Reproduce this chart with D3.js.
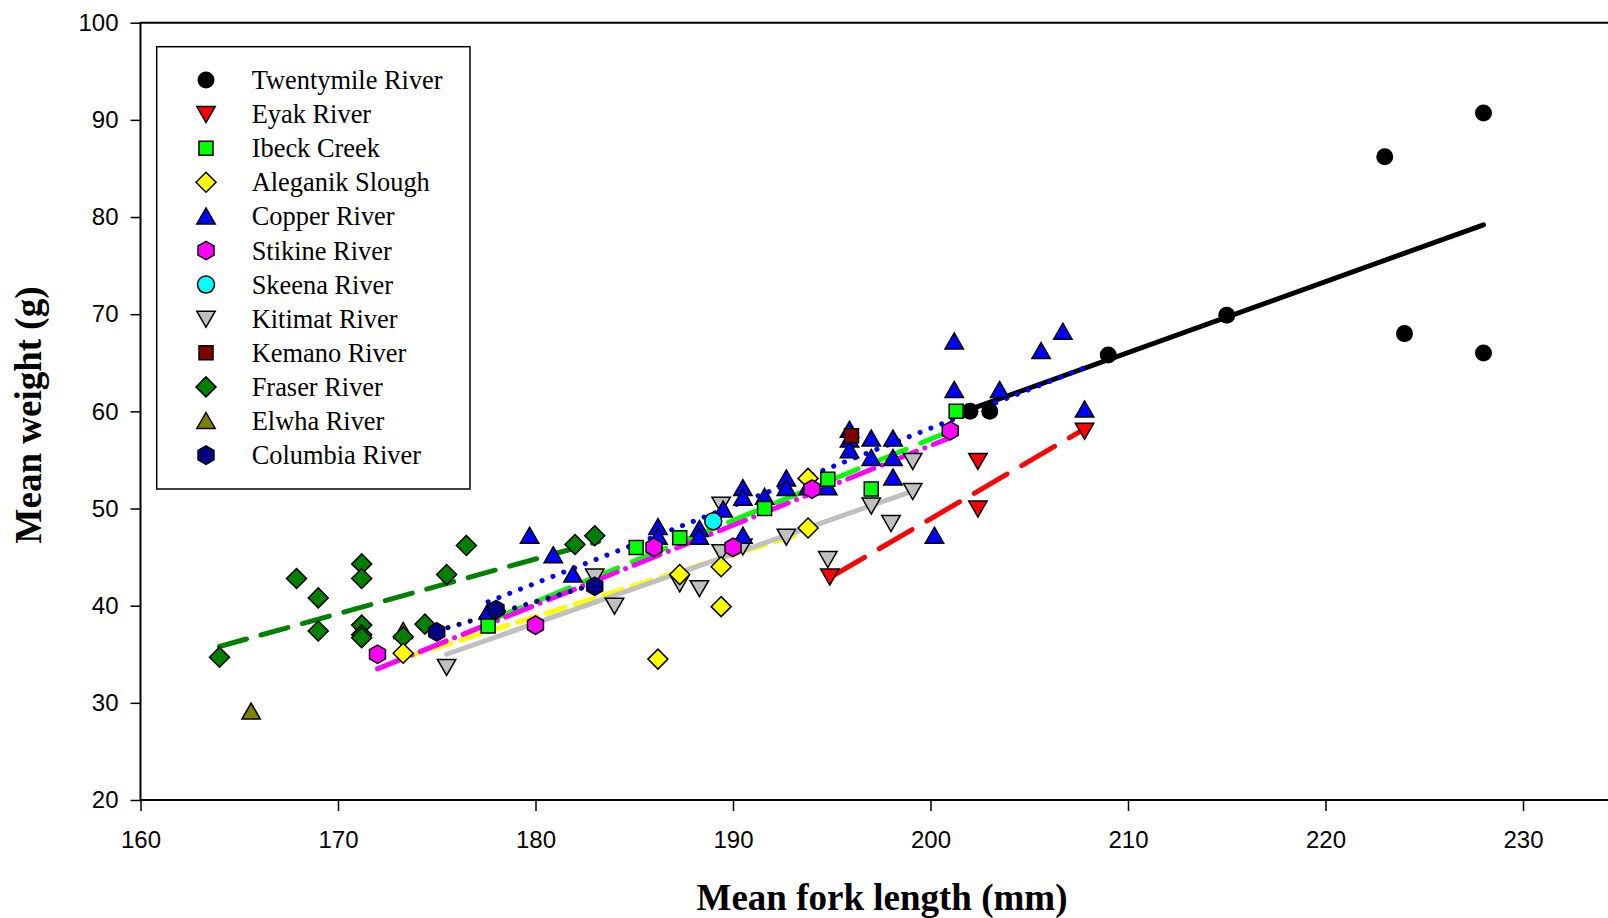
<!DOCTYPE html>
<html><head><meta charset="utf-8">
<script src="https://cdn.jsdelivr.net/npm/d3@7"></script>
<style>html,body{margin:0;padding:0;background:#fff;overflow:hidden}</style>
</head><body>
<svg id="chart" width="1608" height="918"></svg>
<script>
// ---- data ----
const seriesNames = ["Twentymile River","Eyak River","Ibeck Creek","Aleganik Slough","Copper River","Stikine River","Skeena River","Kitimat River","Kemano River","Fraser River","Elwha River","Columbia River"];

const twentymileX = [202, 203, 209, 215, 223, 224, 228, 228];
const twentymileY = [60, 60, 65.8, 69.9, 86.2, 68, 90.7, 66];
const eyakX = [194.9, 202.4, 202.4, 207.8];
const eyakY = [43, 54.9, 50, 58];
const ibeckX = [177.6, 185.1, 187.3, 191.6, 194.8, 197, 201.3];
const ibeckY = [37.9, 46, 47, 50, 53, 52, 60];
const aleganikX = [173.3, 186.2, 187.3, 189.4, 189.4, 193.8, 193.8];
const aleganikY = [35.1, 34.5, 43.2, 44, 39.9, 48, 53.1];
const copperX = [177.6, 179.7, 180.9, 181.9, 186.2, 186.2, 188.3, 188.3, 189.5, 190.5, 190.5, 190.5, 191.6, 192.7, 192.7, 193.8, 194.8, 195.9, 195.9, 195.9, 197, 197, 198.1, 198.1, 198.1, 200.2, 201.2, 201.2, 203.5, 205.6, 206.7, 207.8];
const copperY = [39.4, 47.2, 45.2, 43.2, 48.1, 47.1, 47.9, 47.1, 49.9, 52.1, 51.1, 47.2, 51.2, 53.1, 52.1, 52.2, 52.2, 58.1, 57.1, 56, 57.2, 55.2, 57.2, 55.2, 53.2, 47.2, 67.2, 62.2, 62.2, 66.2, 68.2, 60.2];
const stikineX = [172, 180, 186, 190, 194, 201];
const stikineY = [35, 38, 46, 46, 52, 58];
const skeenaX = [189];
const skeenaY = [48.7];
const kitimatX = [175.5, 183, 184, 187.3, 188.3, 189.4, 189.4, 190.5, 192.7, 194.8, 197, 198, 199.1, 199.1];
const kitimatY = [33.7, 43, 40, 42.3, 41.8, 50.4, 45.5, 46.1, 47.1, 44.8, 50.3, 48.5, 51.8, 54.9];
const kemanoX = [196];
const kemanoY = [57.5];
const fraserX = [164, 167.9, 169, 169, 171.2, 171.2, 171.2, 171.2, 171.2, 173.3, 174.4, 175.5, 176.5, 182, 183];
const fraserY = [34.7, 42.8, 40.8, 37.4, 44.3, 42.8, 38, 37, 36.7, 36.8, 38.1, 43.2, 46.2, 46.3, 47.2];
const elwhaX = [165.6, 173.3];
const elwhaY = [29.1, 37.4];
const columbiaX = [175, 178, 183];
const columbiaY = [37.3, 39.6, 42];

// regression line endpoints [x1, x2], [y1, y2]
const twentymileFitX = [202, 228], twentymileFitY = [60.2, 79.2];
const eyakFitX = [195, 207.8], eyakFitY = [43, 58.2];
const ibeckFitX = [177.6, 200.8], ibeckFitY = [38.4, 57.8];
const aleganikFitX = [173.3, 193.7], aleganikFitY = [34.6, 47.6];
const copperFitX = [177.6, 207.7], copperFitY = [40.4, 64.4];
const stikineFitX = [172, 201], stikineFitY = [33.5, 57.3];
const kitimatFitX = [175.5, 199.1], kitimatFitY = [35.0, 51.8];
const fraserFitX = [164, 183.2], fraserFitY = [35.8, 46.6];
const columbiaFitX = [175, 183], columbiaFitY = [37.4, 42.2];

const xTicks = [160, 170, 180, 190, 200, 210, 220, 230];
const yTicks = [20, 30, 40, 50, 60, 70, 80, 90, 100];

// ---- drawing ----
const svg = d3.select("#chart");
const x = d3.scaleLinear().domain([160, 235]).range([140.5, 1621.75]);
const y = d3.scaleLinear().domain([20, 100]).range([800, 22.7]);

function shapePath(kind) {
  const p = d3.path();
  if (kind === "circle") { p.arc(0, 0, 8.5, 0, 2 * Math.PI); p.closePath(); }
  else if (kind === "square") { p.rect(-7, -7, 14, 14); }
  else if (kind === "diamond") { p.moveTo(0, -10); p.lineTo(10, 0); p.lineTo(0, 10); p.lineTo(-10, 0); p.closePath(); }
  else if (kind === "up") { p.moveTo(0, -8.5); p.lineTo(9.2, 7.5); p.lineTo(-9.2, 7.5); p.closePath(); }
  else if (kind === "down") { p.moveTo(0, 8.5); p.lineTo(9.2, -7.5); p.lineTo(-9.2, -7.5); p.closePath(); }
  else if (kind === "hex") {
    for (let i = 0; i < 6; i++) {
      const a = -Math.PI / 2 + i * Math.PI / 3;
      const px = 9.2 * Math.cos(a), py = 9.2 * Math.sin(a);
      if (i === 0) p.moveTo(px, py); else p.lineTo(px, py);
    }
    p.closePath();
  }
  return p.toString();
}

const series = [
  {name: seriesNames[0], xs: twentymileX, ys: twentymileY, shape: "circle", fill: "#000000", stroke: "none"},
  {name: seriesNames[1], xs: eyakX, ys: eyakY, shape: "down", fill: "#FF0000"},
  {name: seriesNames[2], xs: ibeckX, ys: ibeckY, shape: "square", fill: "#00FF00"},
  {name: seriesNames[3], xs: aleganikX, ys: aleganikY, shape: "diamond", fill: "#FFFF00"},
  {name: seriesNames[4], xs: copperX, ys: copperY, shape: "up", fill: "#0000FF"},
  {name: seriesNames[5], xs: stikineX, ys: stikineY, shape: "hex", fill: "#FF00FF"},
  {name: seriesNames[6], xs: skeenaX, ys: skeenaY, shape: "circle", fill: "#00FFFF"},
  {name: seriesNames[7], xs: kitimatX, ys: kitimatY, shape: "down", fill: "#C0C0C0"},
  {name: seriesNames[8], xs: kemanoX, ys: kemanoY, shape: "square", fill: "#800000"},
  {name: seriesNames[9], xs: fraserX, ys: fraserY, shape: "diamond", fill: "#008000"},
  {name: seriesNames[10], xs: elwhaX, ys: elwhaY, shape: "up", fill: "#808000"},
  {name: seriesNames[11], xs: columbiaX, ys: columbiaY, shape: "hex", fill: "#000080"}
];
// order in which marker groups are painted (Elwha under Fraser, Aleganik over Fraser)
const paintOrder = [10, 9, 0, 1, 7, 4, 2, 3, 5, 6, 8, 11];

const fits = [
  {xs: twentymileFitX, ys: twentymileFitY, color: "#000000", dash: null, w: 5},
  {xs: eyakFitX, ys: eyakFitY, color: "#FF0000", dash: "38 17", w: 5},
  {xs: ibeckFitX, ys: ibeckFitY, color: "#00FF00", dash: "36 16", w: 5},
  {xs: aleganikFitX, ys: aleganikFitY, color: "#FFFF00", dash: "20 10", w: 5},
  {xs: copperFitX, ys: copperFitY, color: "#0000FF", dash: "0.1 11.5", w: 5},
  {xs: stikineFitX, ys: stikineFitY, color: "#FF00FF", dash: "28 9 0.1 9", w: 5},
  {xs: kitimatFitX, ys: kitimatFitY, color: "#C0C0C0", dash: null, w: 5},
  {xs: fraserFitX, ys: fraserFitY, color: "#008000", dash: "28 15", w: 5},
  {xs: columbiaFitX, ys: columbiaFitY, color: "#000080", dash: "0.1 11.5", w: 5}
];

// axes lines
svg.append("line").attr("x1", 140).attr("x2", 1608).attr("y1", 22.7).attr("y2", 22.7)
  .attr("stroke", "#000").attr("stroke-width", 2);
svg.append("line").attr("x1", 140.5).attr("x2", 140.5).attr("y1", 22).attr("y2", 801)
  .attr("stroke", "#000").attr("stroke-width", 2);

const xAxis = d3.axisBottom(x).tickValues(xTicks).tickSize(11).tickPadding(20).tickFormat(d3.format("d"));
const gx = svg.append("g").attr("transform", "translate(0,800)").call(xAxis);
gx.select(".domain").attr("d", `M${x(160)},0H1608`).attr("stroke-width", 2);
gx.selectAll(".tick line").attr("stroke-width", 1.5);
gx.selectAll("text").attr("font-family", "Liberation Sans, Arial, sans-serif").attr("font-size", 24).attr("fill", "#000");

const yAxis = d3.axisLeft(y).tickValues(yTicks).tickSize(10).tickPadding(12).tickFormat(d3.format("d"));
const gy = svg.append("g").attr("transform", "translate(140.5,0)").call(yAxis);
gy.select(".domain").remove();
gy.selectAll(".tick line").attr("stroke-width", 1.5);
gy.selectAll("text").attr("font-family", "Liberation Sans, Arial, sans-serif").attr("font-size", 24).attr("fill", "#000");

// axis titles
svg.append("text").attr("x", 882).attr("y", 910).attr("text-anchor", "middle")
  .attr("font-family", "Liberation Serif, Times New Roman, serif").attr("font-weight", "bold")
  .attr("font-size", 37).text("Mean fork length (mm)");
svg.append("text").attr("transform", "translate(41,415) rotate(-90)").attr("text-anchor", "middle")
  .attr("font-family", "Liberation Serif, Times New Roman, serif").attr("font-weight", "bold")
  .attr("font-size", 37).text("Mean weight (g)");

// regression lines
const lineGen = d3.line().x(d => x(d[0])).y(d => y(d[1]));
svg.append("g").selectAll("path").data(fits).join("path")
  .attr("d", f => lineGen(f.xs.map((v, i) => [v, f.ys[i]])))
  .attr("fill", "none").attr("stroke", f => f.color).attr("stroke-width", f => f.w)
  .attr("stroke-linecap", "round").attr("stroke-dasharray", f => f.dash);

// points
const pts = svg.append("g");
paintOrder.forEach(k => {
  const s = series[k];
  pts.append("g").selectAll("path").data(s.xs.map((v, i) => [v, s.ys[i]])).join("path")
    .attr("transform", d => `translate(${x(d[0])},${y(d[1])})`)
    .attr("d", shapePath(s.shape))
    .attr("fill", s.fill)
    .attr("stroke", s.stroke === "none" ? "none" : "#000")
    .attr("stroke-width", 1.5);
});

// legend
const lg = svg.append("g");
lg.append("rect").attr("x", 156.7).attr("y", 46.7).attr("width", 313.3).attr("height", 442.3)
  .attr("fill", "#fff").attr("stroke", "#000").attr("stroke-width", 1.5);
series.forEach((s, i) => {
  const cy = 80 + i * 34.1;
  lg.append("path").attr("transform", `translate(206,${cy})`).attr("d", shapePath(s.shape))
    .attr("fill", s.fill).attr("stroke", s.stroke === "none" ? "none" : "#000").attr("stroke-width", 1.5);
  lg.append("text").attr("x", 251.7).attr("y", cy + 9)
    .attr("font-family", "Liberation Serif, Times New Roman, serif").attr("font-size", 26.4)
    .text(s.name);
});
</script>
</body></html>
